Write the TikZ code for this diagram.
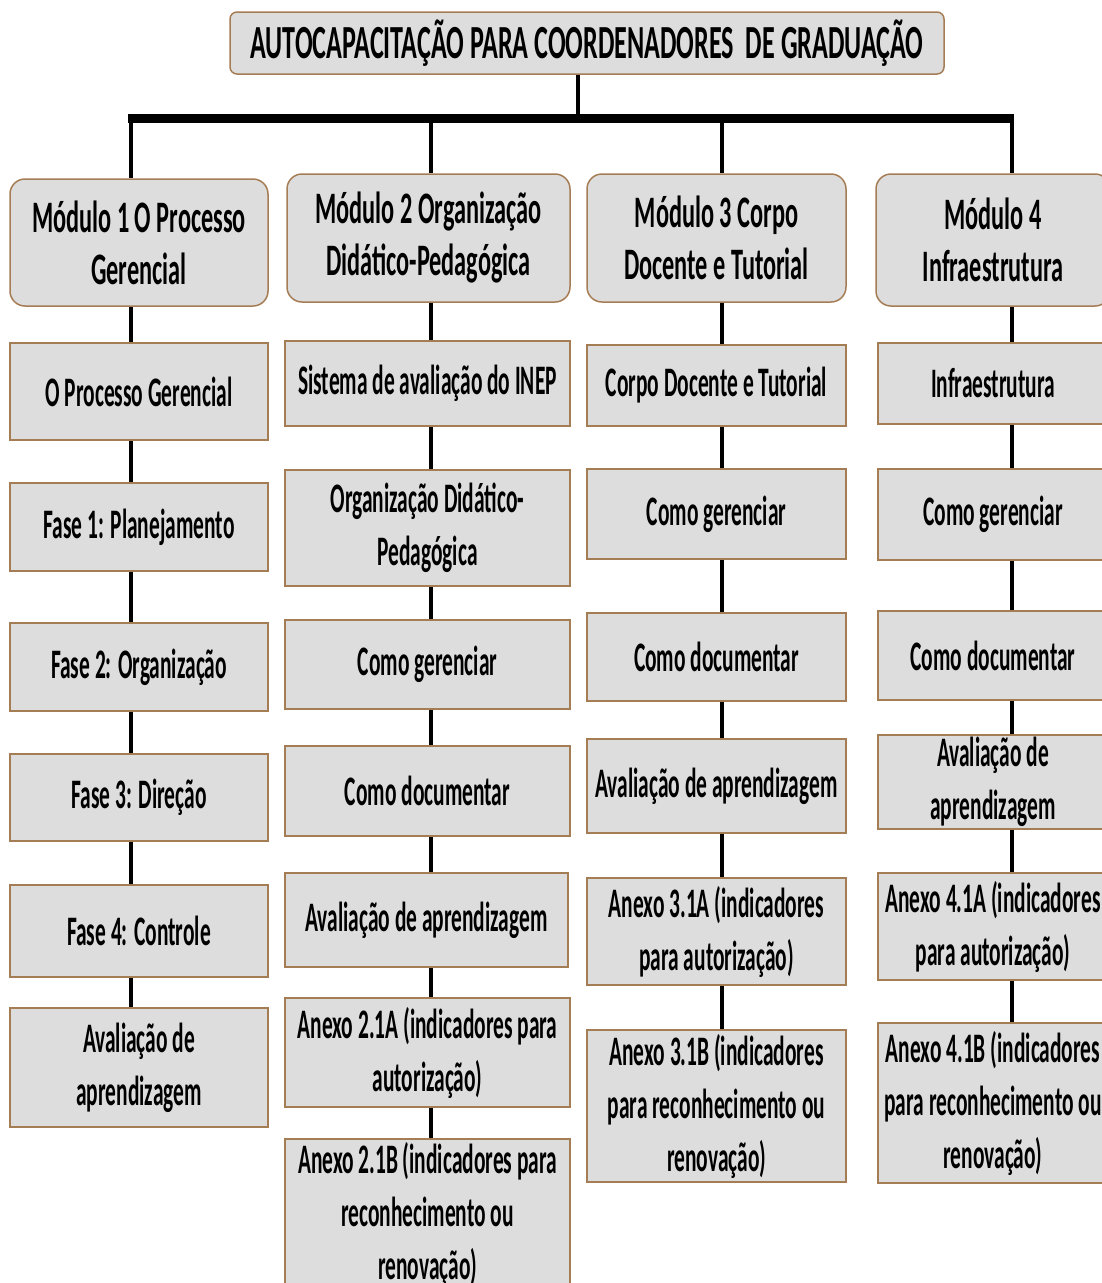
\documentclass[tikz,border=0pt]{standalone}
\usepackage{fontspec}
\newfontfamily\titf[FakeStretch=0.55]{Carlito}
\newfontfamily\modf[FakeStretch=0.54]{Carlito}
\newfontfamily\itf[FakeStretch=0.51]{Carlito}
\definecolor{boxfill}{RGB}{221,221,221}
\definecolor{boxline}{RGB}{165,125,85}
\begin{document}
\begin{tikzpicture}[x=1pt,y=-1pt,
  box/.style={draw=boxline, fill=boxfill, line width=1.5pt, inner sep=0pt, align=center,
    font={\itf\bfseries\fontsize{42}{53}\selectfont}},
  modbox/.style={box, rounded corners=15pt, font={\modf\bfseries\fontsize{45}{52}\selectfont}},
  titbox/.style={box, rounded corners=7pt, font={\titf\bfseries\fontsize{47.5}{52}\selectfont}},
  conn/.style={line width=4.5pt, black},
  barline/.style={line width=9pt, black}]
\useasboundingbox (0,0) rectangle (1102,1283);

% title
\node[titbox, minimum width=714pt, minimum height=62pt] (title) at (587,43) {AUTOCAPACITAÇÃO PARA COORDENADORES~ DE GRADUAÇÃO};

% modules
\node[modbox, minimum width=258pt, minimum height=127pt] (m1) at (139,242.5) {Módulo 1 O Processo\\Gerencial};
\node[modbox, minimum width=283pt, minimum height=128pt] (m2) at (428.5,238) {Módulo 2 Organização\\Didático-Pedagógica};
\node[modbox, minimum width=259pt, minimum height=128pt] (m3) at (716.5,238) {Módulo 3 Corpo\\Docente e Tutorial};
\node[modbox, minimum width=234pt, minimum height=132pt] (m4) at (993,240) {Módulo 4\\Infraestrutura};

% column 1
\node[box, minimum width=258pt, minimum height=97pt] (a1) at (139,391.5) {O Processo Gerencial};
\node[box, minimum width=258pt, minimum height=88pt] (a2) at (139,527) {Fase 1: Planejamento};
\node[box, minimum width=258pt, minimum height=88pt] (a3) at (139,667) {Fase 2: Organização};
\node[box, minimum width=258pt, minimum height=87pt] (a4) at (139,797.5) {Fase 3: Direção};
\node[box, minimum width=258pt, minimum height=92pt] (a5) at (139,931) {Fase 4: Controle};
\node[box, minimum width=258pt, minimum height=119pt] (a6) at (139,1067.5) {Avaliação de\\aprendizagem};

% column 2
\node[box, minimum width=285pt, minimum height=85pt] (b1) at (427.5,383.5) {Sistema de avaliação do INEP};
\node[box, minimum width=285pt, minimum height=116pt] (b2) at (427.5,528) {Organização Didático-\\Pedagógica};
\node[box, minimum width=285pt, minimum height=89pt] (b3) at (427.5,664.5) {Como gerenciar};
\node[box, minimum width=285pt, minimum height=90pt] (b4) at (427.5,791) {Como documentar};
\node[box, minimum width=283pt, minimum height=94pt] (b5) at (426.5,920) {Avaliação de aprendizagem};
\node[box, minimum width=285pt, minimum height=109pt] (b6) at (427.5,1052.5) {Anexo 2.1A (indicadores para\\autorização)};
\node[box, minimum width=285pt, minimum height=151pt] (b7) at (427.5,1214.5) {Anexo 2.1B (indicadores para\\reconhecimento ou\\renovação)};

% column 3
\node[box, minimum width=259pt, minimum height=81pt] (c1) at (716.5,385.5) {Corpo Docente e Tutorial};
\node[box, minimum width=259pt, minimum height=90pt] (c2) at (716.5,514) {Como gerenciar};
\node[box, minimum width=259pt, minimum height=88pt] (c3) at (716.5,657) {Como documentar};
\node[box, minimum width=259pt, minimum height=94pt] (c4) at (716.5,786) {Avaliação de aprendizagem};
\node[box, minimum width=259pt, minimum height=107pt] (c5) at (716.5,931.5) {Anexo 3.1A (indicadores\\para autorização)};
\node[box, minimum width=259pt, minimum height=152pt] (c6) at (716.5,1106) {Anexo 3.1B (indicadores\\para reconhecimento ou\\renovação)};

% column 4
\node[box, minimum width=230pt, minimum height=81pt] (d1) at (993,383.5) {Infraestrutura};
\node[box, minimum width=230pt, minimum height=91pt] (d2) at (993,514.5) {Como gerenciar};
\node[box, minimum width=230pt, minimum height=89pt] (d3) at (993,655.5) {Como documentar};
\node[box, minimum width=230pt, minimum height=94pt] (d4) at (993,782) {Avaliação de\\aprendizagem};
\node[box, minimum width=230pt, minimum height=107pt] (d5) at (993,926.5) {Anexo 4.1A (indicadores\\para autorização)};
\node[box, minimum width=230pt, minimum height=160pt] (d6) at (993,1103) {Anexo 4.1B (indicadores\\para reconhecimento ou\\renovação)};

% connectors
\coordinate (stem) at (578,118);
\coordinate (barL) at (128,118);
\coordinate (barR) at (1014,118);
\coordinate (k1) at (131,118);
\coordinate (k2) at (431,118);
\coordinate (k3) at (722,118);
\coordinate (k4) at (1012,118);
\draw[conn] (title.south -| stem) -- (stem);
\draw[barline] (barL) -- (barR);
\foreach \k/\m in {k1/m1,k2/m2,k3/m3,k4/m4}
  \draw[conn] (\k) -- (\m.north -| \k);
\foreach \u/\v in {m1/a1,a1/a2,a2/a3,a3/a4,a4/a5,a5/a6}
  \draw[conn] (\u.south -| k1) -- (\v.north -| k1);
\foreach \u/\v in {m2/b1,b1/b2,b2/b3,b3/b4,b4/b5,b5/b6,b6/b7}
  \draw[conn] (\u.south -| k2) -- (\v.north -| k2);
\foreach \u/\v in {m3/c1,c1/c2,c2/c3,c3/c4,c4/c5,c5/c6}
  \draw[conn] (\u.south -| k3) -- (\v.north -| k3);
\foreach \u/\v in {m4/d1,d1/d2,d2/d3,d3/d4,d4/d5,d5/d6}
  \draw[conn] (\u.south -| k4) -- (\v.north -| k4);
\end{tikzpicture}
\end{document}
